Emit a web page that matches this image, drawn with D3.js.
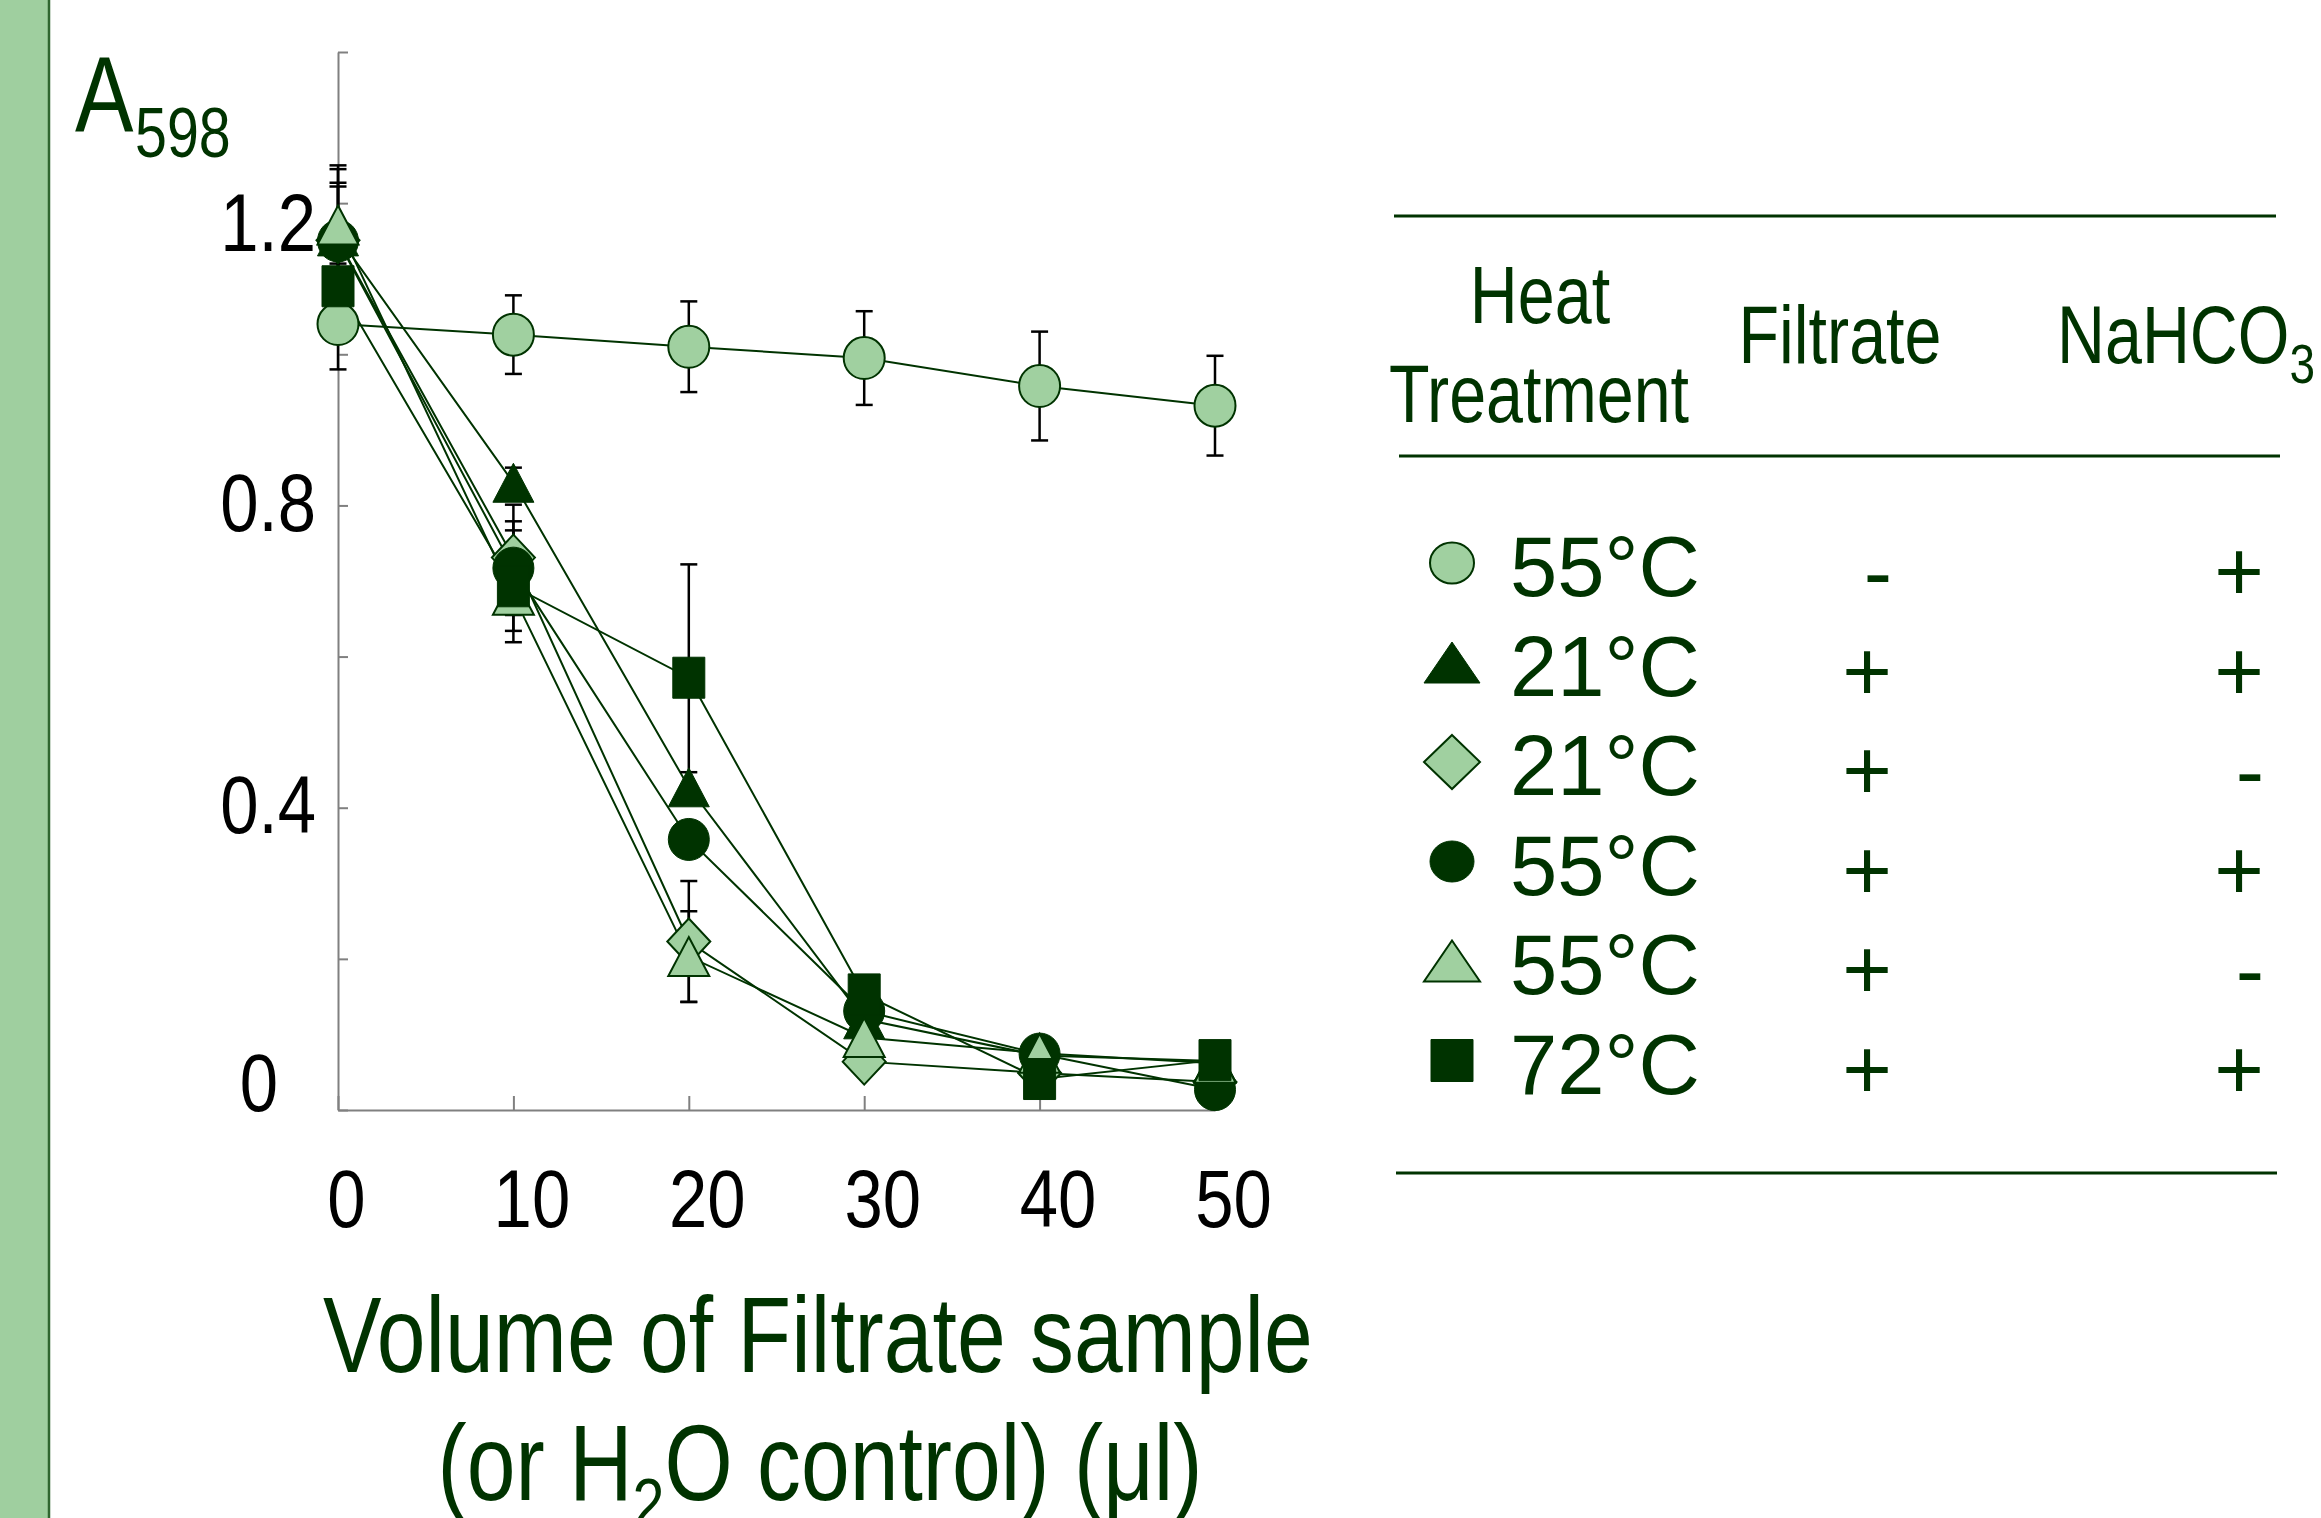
<!DOCTYPE html>
<html>
<head>
<meta charset="utf-8">
<script src="https://cdn.jsdelivr.net/npm/d3@7"></script>
<style>
  body { margin: 0; background: #fff; }
  text { font-family: "Liberation Sans", Arial, sans-serif; }
</style>
</head>
<body>
<script>
// volumes of filtrate (x) and the A598 readings for each treatment
const volumes = [0, 10, 20, 30, 40, 50];

const heat55NoFiltrate = [1.04, 1.026, 1.01, 0.995, 0.958, 0.932];
const heat55NoFiltrateErr = [0.06, 0.052, 0.06, 0.062, 0.072, 0.066];
const heat21 = [1.156, 0.83, 0.427, 0.12, 0.072, 0.065];
const heat21Err = [0.089, 0.02, 0.02, 0.01, 0.01, 0.01];
const heat21NoBicarb = [1.151, 0.731, 0.223, 0.064, 0.049, 0.037];
const heat21NoBicarbErr = [0.076, 0.07, 0.08, 0.01, 0.01, 0.01];
const heat55 = [1.15, 0.717, 0.358, 0.131, 0.074, 0.027];
const heat55Err = [0.072, 0.062, 0.02, 0.01, 0.01, 0.01];
const heat55NoBicarb = [1.171, 0.681, 0.203, 0.096, 0.075, 0.062];
const heat55NoBicarbErr = [0.079, 0.047, 0.06, 0.01, 0.01, 0.01];
const heat72 = [1.09, 0.693, 0.572, 0.153, 0.041, 0.066];
const heat72Err = [0.03, 0.074, 0.15, 0.01, 0.01, 0.01];

// legend table rows
const heatLabels = ['55°C', '21°C', '21°C', '55°C', '55°C', '72°C'];
const filtrateSigns = ['-', '+', '+', '+', '+', '+'];
const bicarbSigns = ['+', '+', '-', '+', '-', '+'];

const yTickValues = [0, 0.2, 0.4, 0.6, 0.8, 1.0, 1.2, 1.4];
const yLabelValues = [0, 0.4, 0.8, 1.2];
const xTickValues = [0, 10, 20, 30, 40, 50];

const dark = '#003300';
const light = '#a0d0a0';

const width = 2321;
const height = 1518;

const plaatje = d3.select('body').append('svg')
    .attr('width', width)
    .attr('height', height);

// green band on the left
plaatje.append('rect').attr('x', 0).attr('y', 0).attr('width', 48).attr('height', height).attr('fill', '#9fcf9f');
plaatje.append('line').attr('x1', 49).attr('x2', 49).attr('y1', 0).attr('y2', height)
    .attr('stroke', '#2f662f').attr('stroke-width', 2.5);

const xscale = d3.scaleLinear().domain([0, 50]).range([338, 1215]);
const yscale = d3.scaleLinear().domain([0, 1.4]).range([1110, 52]);

// series table (built from the arrays above)
const shapes = ['circle', 'triangle', 'diamond', 'circle', 'triangle', 'square'];
const fills = [light, dark, light, dark, light, dark];
const values = [heat55NoFiltrate, heat21, heat21NoBicarb, heat55, heat55NoBicarb, heat72];
const errors = [heat55NoFiltrateErr, heat21Err, heat21NoBicarbErr, heat55Err, heat55NoBicarbErr, heat72Err];
const series = values.map((v, i) => ({
    shape: shapes[i],
    fill: fills[i],
    points: v.map((d, j) => ({ x: volumes[j], y: d, err: errors[i][j] }))
}));

// marker outline centred on its bounding box
const plotSize = { circle: [41, 42], triangle: [41, 39], diamond: [43, 46], square: [32, 41] };
const legendSize = { circle: [44, 41], triangle: [56, 41], diamond: [56, 54], square: [42, 42] };
function markerPath(shape, w, h) {
    const a = w / 2, b = h / 2;
    if (shape === 'circle') return `M${-a},0A${a},${b} 0 1,0 ${a},0A${a},${b} 0 1,0 ${-a},0Z`;
    if (shape === 'triangle') return `M0,${-b}L${a},${b}L${-a},${b}Z`;
    if (shape === 'diamond') return `M0,${-b}L${a},0L0,${b}L${-a},0Z`;
    return `M${-a},${-b}H${a}V${b}H${-a}Z`;
}

// axes
const yaxis = d3.axisLeft(yscale).tickValues(yTickValues).tickSize(-10).tickSizeOuter(0)
    .tickFormat((d) => yLabelValues.includes(d) ? (d === 0 ? '0' : d3.format('.1f')(d)) : '');
const g_yaxis = plaatje.append('g').attr('transform', 'translate(338,0)').call(yaxis);

const xaxis = d3.axisBottom(xscale).tickValues(xTickValues).tickSize(-14).tickSizeOuter(0);
const g_xaxis = plaatje.append('g').attr('transform', 'translate(0,1110)').call(xaxis);

[g_yaxis, g_xaxis].forEach((g) => {
    g.selectAll('path, line').attr('stroke', '#808080').attr('stroke-width', 2);
    g.selectAll('text').attr('font-size', 81).attr('fill', '#000')
        .attr('font-family', '"Liberation Sans", Arial, sans-serif');
});
g_yaxis.selectAll('text')
    .attr('transform', 'scale(0.85,1)')
    .attr('x', (d) => (d === 0 ? -60 : -22) / 0.85)
    .attr('dy', (d) => d === 1.2 ? 47 : d === 0 ? 0 : 25);
g_xaxis.selectAll('text')
    .attr('transform', 'scale(0.85,1)')
    .attr('x', (d) => (d === 0 ? 8 : 18) / 0.85)
    .attr('y', 117)
    .attr('dy', 0);

// lines
const line = d3.line().x((d) => xscale(d.x)).y((d) => yscale(d.y));
plaatje.append('g').selectAll('path').data(series).join('path')
    .attr('d', (d) => line(d.points))
    .attr('fill', 'none')
    .attr('stroke', dark)
    .attr('stroke-width', 2);

// error bars
const bars = plaatje.append('g').attr('stroke', '#000').attr('stroke-width', 2.5);
series.forEach((s) => {
    const eb = bars.append('g').selectAll('g').data(s.points).join('g');
    eb.append('line')
        .attr('x1', (d) => xscale(d.x)).attr('x2', (d) => xscale(d.x))
        .attr('y1', (d) => yscale(d.y - d.err)).attr('y2', (d) => yscale(d.y + d.err));
    [-1, 1].forEach((k) => {
        eb.append('line')
            .attr('x1', (d) => xscale(d.x) - 8.5).attr('x2', (d) => xscale(d.x) + 8.5)
            .attr('y1', (d) => yscale(d.y + k * d.err)).attr('y2', (d) => yscale(d.y + k * d.err));
    });
});

// markers, in legend order so later series sit on top
series.forEach((s) => {
    const [w, h] = plotSize[s.shape];
    plaatje.append('g').selectAll('path').data(s.points).join('path')
        .attr('transform', (d) => `translate(${xscale(d.x)},${yscale(d.y)})`)
        .attr('d', markerPath(s.shape, w, h))
        .attr('fill', s.fill)
        .attr('stroke', dark)
        .attr('stroke-width', s.fill === light ? 2 : 1);
});

// condensed text helper
function narrow(x, y, size, anchor, sx) {
    return plaatje.append('g')
        .attr('transform', `translate(${x},${y}) scale(${sx || 0.82},1)`)
        .append('text')
        .attr('font-size', size)
        .attr('text-anchor', anchor)
        .attr('fill', dark);
}

// y title A598
narrow(75, 132, 107, 'start').text('A');
narrow(135, 157, 70, 'start').text('598');

// x title
narrow(818, 1372, 107, 'middle').text('Volume of Filtrate sample');
const t2 = narrow(820, 1500, 107, 'middle');
t2.append('tspan').text('(or H');
t2.append('tspan').attr('font-size', 70).attr('dy', 28).text('2');
t2.append('tspan').attr('dy', -28).text('O control) (μl)');

// legend table
const rules = [[1394, 2276, 216], [1399, 2280, 456], [1396, 2277, 1173]];
plaatje.append('g').selectAll('line').data(rules).join('line')
    .attr('x1', (d) => d[0]).attr('x2', (d) => d[1])
    .attr('y1', (d) => d[2]).attr('y2', (d) => d[2])
    .attr('stroke', dark).attr('stroke-width', 3);

narrow(1540, 323, 81, 'middle').text('Heat');
narrow(1539, 422, 81, 'middle').text('Treatment');
narrow(1840, 363, 81, 'middle').text('Filtrate');
const na = narrow(2057, 363, 81, 'start');
na.append('tspan').text('NaHCO');
na.append('tspan').attr('font-size', 56).attr('dy', 20).text('3');

const rowY = d3.scaleLinear().domain([0, 5]).range([596, 1093.5]);
const rows = plaatje.append('g').selectAll('g').data(heatLabels).join('g')
    .attr('transform', (d, i) => `translate(0,${rowY(i)})`);
rows.append('path')
    .attr('transform', 'translate(1452,-33)')
    .attr('d', (d, i) => markerPath(shapes[i], ...legendSize[shapes[i]]))
    .attr('fill', (d, i) => fills[i])
    .attr('stroke', dark)
    .attr('stroke-width', (d, i) => fills[i] === light ? 2 : 1);
rows.append('text').attr('x', 1510).attr('font-size', 85).attr('fill', dark).text((d) => d);
rows.append('text').attr('x', 1892).attr('y', 5).attr('font-size', 85).attr('text-anchor', 'end')
    .attr('fill', dark).text((d, i) => filtrateSigns[i]);
rows.append('text').attr('x', 2264).attr('y', 5).attr('font-size', 85).attr('text-anchor', 'end')
    .attr('fill', dark).text((d, i) => bicarbSigns[i]);
</script>
</body>
</html>
